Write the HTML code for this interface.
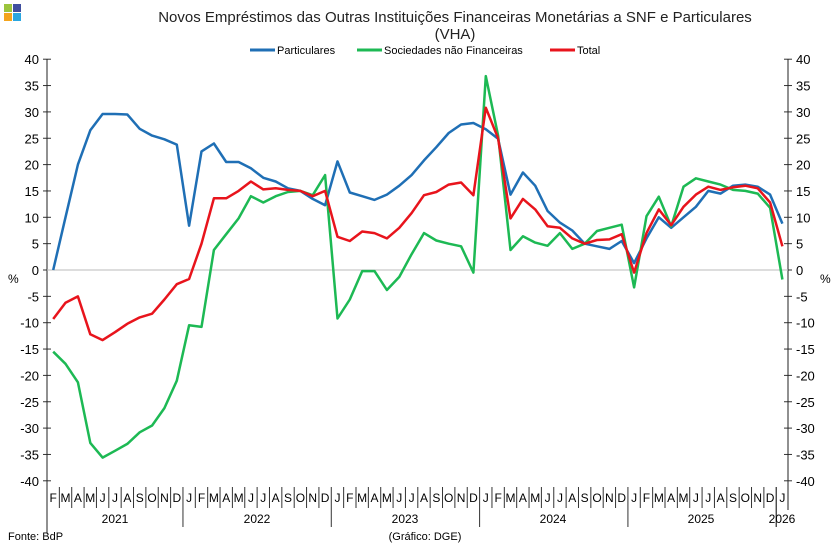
<!DOCTYPE html>
<html><head><meta charset="utf-8"><style>
body{margin:0;background:#fff}
svg{display:block;font-family:"Liberation Sans",sans-serif}
</style></head><body>
<svg id="s" width="839" height="551" viewBox="0 0 839 551" xmlns="http://www.w3.org/2000/svg">
<rect width="839" height="551" fill="#fff"/>
<rect x="4" y="4" width="8" height="8" fill="#9bc43c"/><rect x="13" y="4" width="8" height="8" fill="#3f4f9f"/>
<rect x="4" y="13" width="8" height="8" fill="#f4a41c"/><rect x="13" y="13" width="8" height="8" fill="#2aa6e0"/>
<text x="455" y="22" font-size="15" text-anchor="middle" fill="#222">Novos Empréstimos das Outras Instituições Financeiras Monetárias a SNF e Particulares</text>
<text x="455" y="39" font-size="15" text-anchor="middle" fill="#222">(VHA)</text>
<line x1="250" y1="50" x2="275" y2="50" stroke="#1f6fb5" stroke-width="3"/><text x="277" y="54" font-size="11">Particulares</text>
<line x1="357" y1="50" x2="382" y2="50" stroke="#1db954" stroke-width="3"/><text x="384" y="54" font-size="11">Sociedades não Financeiras</text>
<line x1="550" y1="50" x2="575" y2="50" stroke="#e8141c" stroke-width="3"/><text x="577" y="54" font-size="11">Total</text>
<g id="g"></g>
<text x="8" y="283" font-size="12">%</text><text x="820" y="283" font-size="12">%</text>
<text x="8" y="540" font-size="11">Fonte: BdP</text>
<text x="425" y="540" font-size="11" text-anchor="middle">(Gráfico: DGE)</text>
</svg>
<script>
const g=document.getElementById('g');let h='';
const L=47,R=788,dx=12.36;const Y=v=>270-v*5.27;
for(let v=-40;v<=40;v+=5){const y=Y(v);
h+=`<line x1="${L-4}" y1="${y}" x2="${L+4}" y2="${y}" stroke="#333"/><line x1="${R-4}" y1="${y}" x2="${R+4}" y2="${y}" stroke="#333"/>`;
h+=`<text x="${L-8}" y="${y+5}" font-size="13" text-anchor="end">${v}</text><text x="${R+8}" y="${y+5}" font-size="13">${v}</text>`;}
h+=`<line x1="${L}" y1="59" x2="${L}" y2="533" stroke="#222"/><line x1="${R}" y1="59" x2="${R}" y2="510" stroke="#222"/>`;
h+=`<line x1="${L}" y1="270" x2="${R}" y2="270" stroke="#bbb"/>`;
const m="FMAMJJASONDJ";
for(let i=0;i<60;i++){const x0=L+dx*i,xc=x0+dx/2;
h+=`<text x="${xc}" y="502" font-size="12" text-anchor="middle">${m[(i+1)%12===0?11:(i+1)%12-1+0]}</text>`;
if(i>0){const yr=(i%12==11);h+=`<line x1="${x0}" y1="487" x2="${x0}" y2="${yr?527:508}" stroke="#333"/>`;}}
h+=`<line x1="${L+dx*59}" y1="487" x2="${L+dx*59}" y2="527" stroke="#333"/>`;
[["2021",115],["2022",257],["2023",405],["2024",553],["2025",701],["2026",782]].forEach(a=>h+=`<text x="${a[1]}" y="523" font-size="12" text-anchor="middle">${a[0]}</text>`);
const B=[0,10,20,26.5,29.6,29.6,29.5,26.8,25.5,24.8,23.8,8.4,22.5,24,20.5,20.5,19.3,17.5,16.8,15.5,15,13.5,12.3,20.6,14.7,14,13.3,14.3,16,18,20.8,23.3,26,27.6,27.9,26.7,24.9,14.3,18.5,16,11.2,9,7.5,5,4.5,4,5.5,1.3,6,10,8,10,12,15,14.5,16,16.2,15.8,14.3,8.8];
const G=[-15.5,-17.8,-21.3,-32.8,-35.6,-34.3,-33,-30.8,-29.5,-26.2,-21,-10.5,-10.8,3.8,6.8,9.8,14,12.8,14,14.8,15,14.2,18,-9.2,-5.6,-0.2,-0.2,-3.8,-1.3,3,7,5.6,5,4.5,-0.5,36.8,25.5,3.8,6.4,5.2,4.6,7,4,5,7.4,8,8.6,-3.3,10.2,13.9,8.3,15.8,17.4,16.8,16.2,15.2,15,14.5,11.8,-1.8];
const T=[-9.3,-6.2,-5,-12.2,-13.3,-11.8,-10.2,-9,-8.3,-5.6,-2.7,-1.7,5,13.6,13.6,15,16.8,15.3,15.5,15.2,15,14,15,6.3,5.5,7.3,7,6,8,10.8,14.2,14.8,16.2,16.6,14.2,30.8,25,9.8,13.5,11.5,8.3,8,6,5,5.7,5.8,6.8,-0.5,7,11.5,8.5,12,14.3,15.8,15.2,15.7,16,15.5,12.8,4.5];
[[B,"#1f6fb5"],[G,"#1db954"],[T,"#e8141c"]].forEach(([d,c])=>{h+=`<polyline fill="none" stroke="${c}" stroke-width="2.5" stroke-linejoin="round" points="${d.map((v,i)=>(L+dx*(i+.5)).toFixed(1)+','+Y(v).toFixed(1)).join(' ')}"/>`;});
g.innerHTML=h;
</script>
</body></html>
